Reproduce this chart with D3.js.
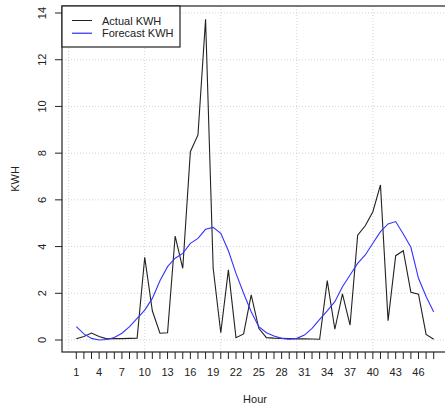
<!DOCTYPE html>
<html>
<head>
<meta charset="utf-8">
<script src="https://cdn.jsdelivr.net/npm/d3@7"></script>
<style>
  body { margin: 0; background: #fff; }
  svg { font-family: "Liberation Sans", Arial, sans-serif; }
</style>
</head>
<body>
<svg id="chart" width="445" height="407"></svg>
<script>
const hours = d3.range(1, 49);
const actualKwh = [0.05, 0.15, 0.3, 0.15, 0.05, 0.06, 0.06, 0.07, 0.08, 3.54, 1.25, 0.29, 0.31, 4.45, 3.07, 8.06,
  8.78, 13.73, 3.07, 0.31, 3.0, 0.1, 0.26, 1.93, 0.5, 0.1, 0.08, 0.07, 0.06, 0.05, 0.05, 0.04, 0.03, 2.54,
  0.46, 1.97, 0.64, 4.49, 4.89, 5.49, 6.64, 0.83, 3.61, 3.82, 2.04, 1.96, 0.24, 0.03];
const forecastKwh = [0.57, 0.26, 0.07, 0.0, 0.02, 0.11, 0.29, 0.57, 0.93, 1.28, 1.78, 2.54, 3.14, 3.5, 3.71, 4.14,
  4.35, 4.74, 4.82, 4.57, 3.82, 2.85, 2.0, 1.21, 0.57, 0.31, 0.17, 0.07, 0.03, 0.07, 0.21, 0.5, 0.88, 1.25,
  1.64, 2.28, 2.78, 3.28, 3.64, 4.14, 4.64, 4.97, 5.07, 4.54, 3.97, 2.64, 1.86, 1.2];
const yTicks = [0, 2, 4, 6, 8, 10, 12, 14];
const xLabelTicks = d3.range(1, 47, 3);
const gridX = [0, 10, 20, 30, 40];
const legendItems = [{name: "Actual KWH", color: "#222"}, {name: "Forecast KWH", color: "blue"}];

const svg = d3.select("#chart");
const plotLeft = 62, plotRight = 448, plotTop = 6, plotBottom = 352;

const x = d3.scaleLinear().domain([-0.88, 49.88]).range([plotLeft, plotRight]);
const y = d3.scaleLinear().domain([-0.514, 14.3]).range([plotBottom, plotTop]);

// grid
svg.append("g").selectAll("line").data(yTicks).join("line")
  .attr("x1", plotLeft).attr("x2", plotRight)
  .attr("y1", d => y(d)).attr("y2", d => y(d))
  .attr("stroke", "#d3d3d3").attr("stroke-dasharray", "1,2");
svg.append("g").selectAll("line").data(gridX).join("line")
  .attr("x1", d => x(d)).attr("x2", d => x(d))
  .attr("y1", plotTop).attr("y2", plotBottom)
  .attr("stroke", "#d3d3d3").attr("stroke-dasharray", "1,2");

// lines
const line = d3.line().x((d, i) => x(hours[i])).y(d => y(d));
svg.append("path").datum(actualKwh)
  .attr("fill", "none").attr("stroke", "#222").attr("stroke-width", 1.1).attr("d", line);
svg.append("path").datum(forecastKwh)
  .attr("fill", "none").attr("stroke", "#3333ff").attr("stroke-width", 1.1).attr("d", line);

// frame
svg.append("rect").attr("x", plotLeft).attr("y", plotTop)
  .attr("width", plotRight - plotLeft).attr("height", plotBottom - plotTop)
  .attr("fill", "none").attr("stroke", "#222").attr("stroke-width", 1.2);

// x axis
const xAxis = svg.append("g").attr("transform", "translate(0," + plotBottom + ")");
xAxis.selectAll("line").data(hours).join("line")
  .attr("x1", d => x(d)).attr("x2", d => x(d))
  .attr("y1", 0).attr("y2", 7).attr("stroke", "#222");
xAxis.selectAll("text").data(xLabelTicks).join("text")
  .attr("x", d => x(d)).attr("y", 24)
  .attr("text-anchor", "middle").attr("font-size", "11px").attr("fill", "#222")
  .text(d => d);

// y axis
const yAxis = svg.append("g").attr("transform", "translate(" + plotLeft + ",0)");
yAxis.selectAll("line").data(yTicks).join("line")
  .attr("x1", -7).attr("x2", 0)
  .attr("y1", d => y(d)).attr("y2", d => y(d)).attr("stroke", "#222");
yAxis.selectAll("text").data(yTicks).join("text")
  .attr("transform", d => "translate(-16," + y(d) + ") rotate(-90)")
  .attr("text-anchor", "middle").attr("font-size", "11px").attr("fill", "#222")
  .text(d => d);

// titles
svg.append("text").attr("x", 255).attr("y", 403)
  .attr("text-anchor", "middle").attr("font-size", "11px").attr("fill", "#222").text("Hour");
svg.append("text").attr("transform", "translate(19," + (plotTop + plotBottom) / 2 + ") rotate(-90)")
  .attr("text-anchor", "middle").attr("font-size", "11px").attr("fill", "#222").text("KWH");

// legend
const legend = svg.append("g");
legend.append("rect").attr("x", plotLeft).attr("y", plotTop).attr("width", 118).attr("height", 41)
  .attr("fill", "#fff").attr("stroke", "#222").attr("stroke-width", 1.2);
legend.selectAll("line").data(legendItems).join("line")
  .attr("x1", 72).attr("x2", 92)
  .attr("y1", (d, i) => 20.5 + i * 12.7).attr("y2", (d, i) => 20.5 + i * 12.7)
  .attr("stroke", d => d.color);
legend.selectAll("text").data(legendItems).join("text")
  .attr("x", 102).attr("y", (d, i) => 24.5 + i * 12.7)
  .attr("font-size", "11px").attr("fill", "#222")
  .text(d => d.name);
</script>
</body>
</html>
